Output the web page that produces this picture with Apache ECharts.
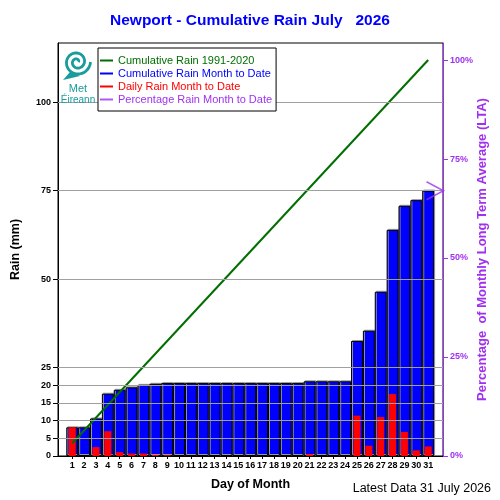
<!DOCTYPE html>
<html>
<head>
<meta charset="utf-8">
<script src="https://cdn.jsdelivr.net/npm/echarts@6/dist/echarts.min.js"></script>
<style>
html, body { margin: 0; padding: 0; background: #fff; }
#main { width: 500px; height: 500px; }
</style>
</head>
<body>
<div id="main"></div>
<script>
// chart data
var days = [1, 2, 3, 4, 5, 6, 7, 8, 9, 10, 11, 12, 13, 14, 15, 16, 17, 18, 19, 20,
	21, 22, 23, 24, 25, 26, 27, 28, 29, 30, 31];
var dailyRain = [8.1, 0, 2.5, 7.0, 1.1, 0.7, 0.7, 0.3, 0.2, 0, 0, 0, 0, 0, 0, 0, 0, 0, 0, 0,
	0.5, 0, 0, 0, 11.4, 2.9, 11.0, 17.5, 6.8, 1.6, 2.7];
var cumRain = [8.1, 8.1, 10.6, 17.6, 18.7, 19.4, 20.1, 20.4, 20.6, 20.6, 20.6, 20.6, 20.6, 20.6, 20.6, 20.6, 20.6, 20.6, 20.6, 20.6,
	21.1, 21.1, 21.1, 21.1, 32.5, 35.4, 46.4, 63.9, 70.7, 72.3, 75.0];
var ltaLine = [[1, 3.6], [31, 111.9]];   // cumulative 1991-2020 average (straight line)
var pctToDate = [67.0];                    // % of LTA at end of month
var rainTicks = [0, 5, 10, 15, 20, 25, 50, 75, 100];
var pctTicks = [0, 25, 50, 75, 100];

var GREEN = '#006e00', BLUE = '#0000ff', RED = '#ff0000', PURPLE = '#a030f0', TEAL = '#189c9c';
var X_MIN = -0.2, X_MAX = 32.25;

var chart = echarts.init(document.getElementById('main'));

// met eireann swirl, just decoration
var spiral = [];
for (var i = 0; i <= 80; i++) {
	var t = i / 80 * 4 * Math.PI;
	var r = 1.5 + 12 * t / (4 * Math.PI);
	spiral.push([77 + r * Math.cos(t), 62 - r * Math.sin(t)]);
}

var option = {
	animation: false,
	backgroundColor: '#fff',
	textStyle: { fontFamily: 'Liberation Sans, Arial, sans-serif' },
	title: {
		text: 'Newport - Cumulative Rain July   2026',
		left: 'center',
		top: 8,
		textStyle: { color: BLUE, fontSize: 15.5, fontWeight: 'bold' }
	},
	legend: {
		left: 98,
		top: 48,
		orient: 'vertical',
		itemWidth: 13,
		itemHeight: 2,
		itemGap: 0,
		icon: 'rect',
		padding: [6, 4, 5, 2],
		borderColor: '#000',
		borderWidth: 1,
		backgroundColor: '#fff',
		textStyle: { fontSize: 11, lineHeight: 13 },
		data: [
			{ name: 'Cumulative Rain 1991-2020', textStyle: { color: GREEN }, itemStyle: { color: GREEN, borderWidth: 0 } },
			{ name: 'Cumulative Rain Month to Date', textStyle: { color: BLUE }, itemStyle: { color: BLUE, borderWidth: 0 } },
			{ name: 'Daily Rain Month to Date', textStyle: { color: RED }, itemStyle: { color: RED, borderWidth: 0 } },
			{ name: 'Percentage Rain Month to Date', textStyle: { color: PURPLE }, itemStyle: { color: PURPLE, borderWidth: 0 } }
		],
		z: 10
	},
	grid: {
		left: 58, right: 57, top: 43, bottom: 44,
		outerBoundsMode: 'none',
		show: true, borderColor: '#000', borderWidth: 1
	},
	xAxis: [{
		type: 'value',
		min: X_MIN, max: X_MAX,
		name: 'Day of Month',
		nameLocation: 'middle',
		nameGap: 22,
		nameTextStyle: { color: '#000', fontSize: 12.5, fontWeight: 'bold' },
		axisLine: { onZero: false, lineStyle: { color: '#000' } },
		axisTick: { customValues: days, length: 3, lineStyle: { color: '#000' } },
		axisLabel: { customValues: days, margin: 5, color: '#000', fontSize: 9, fontWeight: 'bold' },
		splitLine: { show: false }
	}, {
		type: 'value', min: X_MIN, max: X_MAX, show: false
	}],
	yAxis: [{
		type: 'value',
		min: 0, max: 116.7,
		name: 'Rain (mm)',
		nameLocation: 'middle',
		nameRotate: 90,
		nameGap: 36,
		nameTextStyle: { color: '#000', fontSize: 12.5, fontWeight: 'bold' },
		axisLine: { show: true, onZero: false, lineStyle: { color: '#000' } },
		axisTick: { show: true, customValues: rainTicks, length: 5, lineStyle: { color: '#000' } },
		axisLabel: { customValues: rainTicks, margin: 7, color: '#000', fontSize: 9, fontWeight: 'bold' },
		splitLine: { show: false }
	}, {
		type: 'value',
		position: 'right',
		min: 0, max: 104.3,
		name: 'Percentage  of Monthly Long Term Average (LTA)',
		nameLocation: 'middle',
		nameRotate: 90,
		nameGap: 33,
		nameMoveOverlap: false,
		nameTextStyle: { color: PURPLE, fontSize: 13, fontWeight: 'bold' },
		axisLine: { show: true, onZero: false, lineStyle: { color: PURPLE } },
		axisTick: { show: true, customValues: pctTicks, length: 5, lineStyle: { color: PURPLE } },
		axisLabel: { customValues: pctTicks, formatter: '{value}%', margin: 7, color: PURPLE, fontSize: 9, fontWeight: 'bold' },
		splitLine: { show: false }
	}],
	series: [{
		// grid lines behind the bars
		type: 'line',
		data: [],
		silent: true,
		z: 1,
		markLine: {
			silent: true,
			symbol: 'none',
			label: { show: false },
			lineStyle: { color: '#a0a0a0', width: 1, type: 'solid' },
			data: rainTicks.slice(1).map(function (v) { return { yAxis: v }; })
		}
	}, {
		name: 'Cumulative Rain Month to Date',
		type: 'bar',
		xAxisIndex: 0,
		yAxisIndex: 0,
		barWidth: 11.9,
		z: 2,
		itemStyle: {
			color: BLUE, borderColor: '#000', borderWidth: 1,
			shadowColor: '#9a9a9a', shadowOffsetX: 1, shadowOffsetY: -1, shadowBlur: 0
		},
		data: days.map(function (d, i) { return [d, cumRain[i]]; })
	}, {
		name: 'Daily Rain Month to Date',
		type: 'bar',
		xAxisIndex: 1,
		yAxisIndex: 0,
		barWidth: 7,
		z: 3,
		itemStyle: { color: RED },
		data: days.map(function (d, i) { return [d, dailyRain[i]]; })
	}, {
		name: 'Cumulative Rain 1991-2020',
		type: 'line',
		xAxisIndex: 0,
		yAxisIndex: 0,
		symbol: 'none',
		z: 4,
		lineStyle: { color: GREEN, width: 2 },
		itemStyle: { color: GREEN },
		data: ltaLine
	}, {
		name: 'Percentage Rain Month to Date',
		type: 'scatter',
		xAxisIndex: 0,
		yAxisIndex: 1,
		symbol: 'path://M0,0 L17,9 L0,18',
		symbolSize: [17, 18],
		symbolOffset: [-8, 0],
		z: 5,
		itemStyle: { color: 'none', borderColor: PURPLE, borderWidth: 1.5 },
		data: pctToDate.map(function (p) { return [X_MAX, p]; })
	}],
	graphic: [{
		type: 'polyline',
		shape: { points: spiral },
		style: { stroke: TEAL, lineWidth: 2.8, fill: null },
		z: 20
	}, {
		type: 'polygon',
		shape: { points: [[70, 72], [63, 80], [80, 76]] },
		style: { fill: TEAL },
		z: 20
	}, {
		type: 'text',
		x: 78, y: 83,
		style: { text: 'Met', fill: TEAL, fontSize: 11, fontFamily: 'Liberation Sans', align: 'center' },
		z: 20
	}, {
		type: 'text',
		x: 78, y: 95,
		style: { text: 'Éireann', fill: TEAL, fontSize: 10, fontFamily: 'Liberation Sans', align: 'center' },
		z: 20
	}, {
		type: 'text',
		right: 9, bottom: 5,
		style: { text: 'Latest Data 31 July 2026', fill: '#000', fontSize: 12.5, fontFamily: 'Liberation Sans' }
	}]
};

chart.setOption(option);
</script>
</body>
</html>
